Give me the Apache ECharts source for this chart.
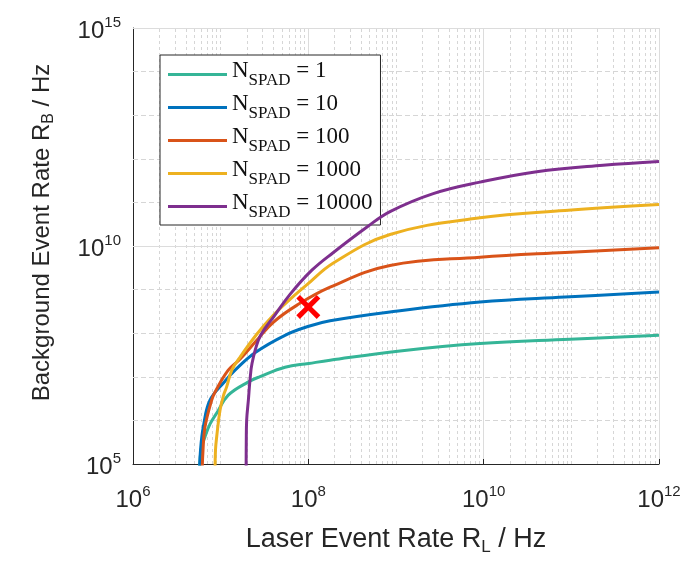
<!DOCTYPE html>
<html>
<head>
<meta charset="utf-8">
<script src="https://cdn.jsdelivr.net/npm/echarts@6/dist/echarts.min.js"></script>
<style>
  html, body { margin: 0; padding: 0; background: #fff; }
  #chart { width: 687px; height: 566px; }
</style>
</head>
<body>
<div id="chart"></div>
<script>
// Number of SPADs per curve and curve colours
const nSpad = [1, 10, 100, 1000, 10000];
const lineColors = ['#35b597', '#0072bd', '#d95319', '#edb120', '#7e2f8e'];

// Laser event rate R_L (Hz) and background event rate R_B (Hz)
const rl1 = [5.73e6, 5.97e6, 6.63e6, 7.55e6, 9.01e6, 1.22e7, 2.07e7, 2.81e7, 5.42e7, 1.01e8, 1.77e8, 1.11e9, 9.08e9, 9.65e10, 1e12];
const rb1 = [5e4, 2.09e5, 4.21e5, 8.23e5, 1.47e6, 3.79e6, 7.64e6, 1.01e7, 1.66e7, 2.02e7, 2.40e7, 3.91e7, 5.78e7, 7.25e7, 8.96e7];

const rl10 = [5.70e6, 5.89e6, 6.34e6, 7.55e6, 1.12e7, 1.46e7, 2.46e7, 5.42e7, 1.01e8, 1.77e8, 8.54e8, 9.08e9, 8.46e10, 1e12];
const rb10 = [5e4, 2.09e5, 7.14e5, 2.91e6, 7.93e6, 1.42e7, 3.56e7, 8.95e7, 1.44e8, 1.92e8, 3.06e8, 5.18e8, 6.74e8, 8.77e8];

const rl100 = [6.12e6, 6.29e6, 6.63e6, 7.90e6, 8.61e6, 1.22e7, 1.66e7, 2.58e7, 3.98e7, 7.36e7, 1.77e8, 8.54e8, 9.08e9, 8.46e10, 1e12];
const rb100 = [5e4, 2.09e5, 7.14e5, 2.91e6, 4.44e6, 1.42e7, 2.53e7, 6.88e7, 1.78e8, 4.35e8, 1.14e9, 3.58e9, 5.54e9, 7.10e9, 9.10e9];

const rl1000 = [8.61e6, 8.73e6, 9.01e6, 9.83e6, 1.08e7, 1.17e7, 1.34e7, 1.66e7, 2.58e7, 3.98e7, 6.18e7, 9.58e7, 1.93e8, 8.54e8, 9.08e9, 8.46e10, 1e12];
const rb1000 = [5e4, 2.09e5, 4.21e5, 1.72e6, 3.79e6, 5.87e6, 1.42e7, 2.81e7, 9.44e7, 2.57e8, 5.97e8, 1.28e9, 4.08e9, 1.83e10, 4.42e10, 6.49e10, 8.91e10];

const rl10000 = [1.95e7, 1.96e7, 1.98e7, 2.07e7, 2.16e7, 2.28e7, 2.69e7, 3.20e7, 4.06e7, 6.18e7, 1.09e8, 1.93e8, 4.63e8, 8.54e8, 2.66e9, 9.08e9, 4.03e10, 2.30e11, 1e12];
const rb10000 = [5e4, 3.54e5, 1.02e6, 2.91e6, 8.36e6, 2.05e7, 6.88e7, 1.29e8, 2.44e8, 7.77e8, 2.75e9, 7.10e9, 2.69e10, 6.15e10, 1.59e11, 2.92e11, 5.07e11, 7.14e11, 8.72e11];

// Operating point marked with a red cross
const markerRL = [1e8];
const markerRB = [4e8];

const curvesRL = [rl1, rl10, rl100, rl1000, rl10000];
const curvesRB = [rb1, rb10, rb100, rb1000, rb10000];

const fontSans = 'Liberation Sans, Arial, sans-serif';
const fontSerif = 'Liberation Serif, Times New Roman, serif';
const axisColor = '#262626';

function zip(xs, ys) {
    return xs.map((x, i) => [x, ys[i]]);
}

function powLabel(value) {
    const e = Math.round(Math.log10(value));
    return '{b|10}{s|' + e + '}';
}

// minor grid: 2..9 per decade on x, every decade on y
const minorX = { type: [3, 3], color: '#d6d6d6', width: 1 };
const minorY = { type: [5, 3], color: '#d6d6d6', width: 1 };
const majorStyle = { type: 'solid', color: '#dcdcdc', width: 1 };
const gridLines = [];
for (let e = 6; e < 12; e++) {
    for (let m = 2; m <= 9; m++) {
        gridLines.push({ xAxis: m * Math.pow(10, e), lineStyle: minorX });
    }
    if (e % 2 === 1) {
        gridLines.push({ xAxis: Math.pow(10, e), lineStyle: minorX });
    }
}
for (let e = 6; e < 15; e++) {
    if (e === 10) continue;
    gridLines.push({ yAxis: Math.pow(10, e), lineStyle: minorY });
}
gridLines.push({ yAxis: 1e10, lineStyle: majorStyle });
gridLines.push({ yAxis: 1e15, lineStyle: majorStyle });

const labelRich = {
    b: { fontSize: 24, fontFamily: fontSans, color: axisColor, padding: [7, 0, 0, 0] },
    s: { fontSize: 15, fontFamily: fontSans, color: axisColor, padding: [0, 0, 10, 0] }
};

const curveSeries = nSpad.map((n, i) => ({
    name: 'N_SPAD = ' + n,
    type: 'line',
    data: zip(curvesRL[i], curvesRB[i]),
    showSymbol: false,
    symbol: 'none',
    smooth: 0.4,
    clip: true,
    z: 10,
    lineStyle: { color: lineColors[i], width: 3, type: 'solid' },
    itemStyle: { color: lineColors[i] }
}));

const chart = echarts.init(document.getElementById('chart'));

chart.setOption({
    animation: false,
    backgroundColor: '#fff',
    grid: { left: 133, right: 28, top: 28, bottom: 102 },
    xAxis: {
        type: 'log',
        logBase: 10,
        min: 1e6,
        max: 1e12,
        interval: 2,
        name: '{t|Laser Event Rate R}{s|L}{t| / Hz}',
        nameLocation: 'middle',
        nameGap: 60,
        nameTextStyle: {
            rich: {
                t: { fontSize: 27, fontFamily: fontSans, color: axisColor },
                s: { fontSize: 17, fontFamily: fontSans, color: axisColor, padding: [15, 0, 0, 0] }
            }
        },
        axisLine: { lineStyle: { color: axisColor, width: 1 } },
        axisTick: { inside: true, length: 5, lineStyle: { color: axisColor } },
        axisLabel: { formatter: powLabel, margin: 17, rich: labelRich },
        splitLine: { show: true, lineStyle: majorStyle }
    },
    yAxis: {
        type: 'log',
        logBase: 10,
        min: 1e5,
        max: 1e15,
        interval: 1,
        name: '{t|Background Event Rate R}{s|B}{t| / Hz}',
        nameLocation: 'middle',
        nameRotate: 90,
        nameGap: 76,
        nameTextStyle: {
            padding: [0, 0, 0, 27],
            rich: {
                t: { fontSize: 24, fontFamily: fontSans, color: axisColor },
                s: { fontSize: 16, fontFamily: fontSans, color: axisColor, padding: [14, 0, 0, 0] }
            }
        },
        axisLine: { show: true, lineStyle: { color: axisColor, width: 1 } },
        axisTick: { inside: true, length: 4, lineStyle: { color: axisColor } },
        axisLabel: {
            margin: 12,
            rich: labelRich,
            formatter: function (value) {
                const e = Math.round(Math.log10(value));
                return e % 5 === 0 ? powLabel(value) : '';
            }
        },
        splitLine: { show: false }
    },
    legend: {
        orient: 'vertical',
        left: 160,
        top: 55,
        icon: 'rect',
        itemWidth: 59,
        itemHeight: 3,
        itemGap: 2,
        padding: [4, 8, 3, 8],
        backgroundColor: '#fff',
        borderColor: axisColor,
        borderWidth: 1,
        borderRadius: 0,
        data: nSpad.map(n => 'N_SPAD = ' + n),
        formatter: function (name) {
            const n = name.split('= ')[1];
            return '{n|N}{sub|SPAD}{eq| = ' + n + '}';
        },
        textStyle: {
            rich: {
                n: { fontSize: 23, fontFamily: fontSerif, color: '#111', lineHeight: 22, padding: [0, 0, 8, 0] },
                sub: { fontSize: 17, fontFamily: fontSerif, color: '#111', lineHeight: 16, padding: [12, 0, 0, 0] },
                eq: { fontSize: 23, fontFamily: fontSerif, color: '#111', lineHeight: 22, padding: [0, 0, 8, 0] }
            }
        }
    },
    series: [
        {
            name: 'grid',
            type: 'line',
            data: [],
            z: 1,
            silent: true,
            markLine: {
                z: 1,
                silent: true,
                symbol: ['none', 'none'],
                label: { show: false },
                emphasis: { disabled: true },
                animation: false,
                data: gridLines
            }
        },
        ...curveSeries,
        {
            name: 'operating point',
            type: 'scatter',
            data: zip(markerRL, markerRB),
            z: 12,
            symbol: 'path://M0,3 L3,0 L10,7 L17,0 L20,3 L13,10 L20,17 L17,20 L10,13 L3,20 L0,17 L7,10 Z',
            symbolSize: 24,
            itemStyle: { color: '#ff0000', opacity: 1 }
        }
    ]
});
</script>
</body>
</html>
